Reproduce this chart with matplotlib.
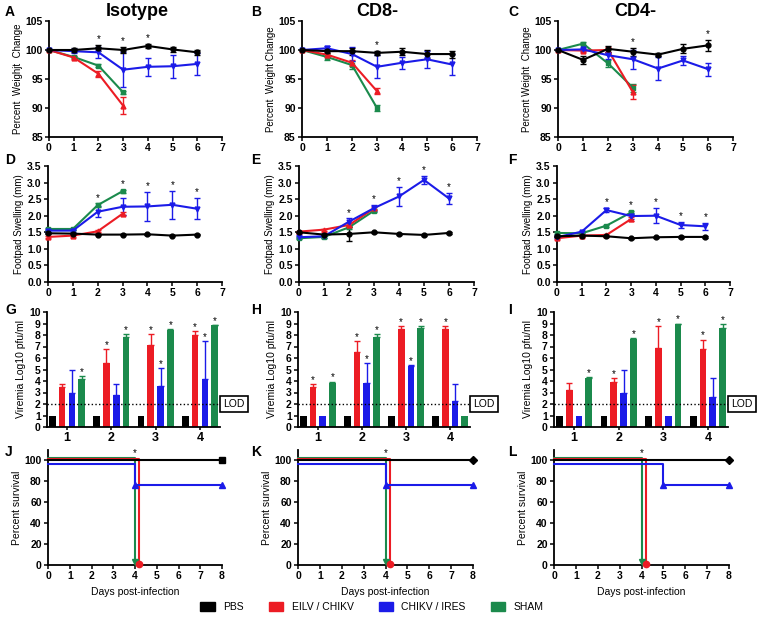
import numpy as np
import matplotlib
matplotlib.use("Agg")
import matplotlib.pyplot as plt
from matplotlib.patches import Patch
from matplotlib.transforms import blended_transform_factory

plt.rcParams['font.family'] = ['Liberation Sans', 'DejaVu Sans']
plt.rcParams['font.weight'] = 'bold'

W, H = 758, 620

groups = ['PBS', 'EILV / CHIKV', 'CHIKV / IRES', 'SHAM']
colors = {'PBS': 'black', 'EILV / CHIKV': '#ec1c24', 'CHIKV / IRES': '#1b1be8', 'SHAM': '#1b8a4c'}
line_markers = {'PBS': 'o', 'EILV / CHIKV': '^', 'CHIKV / IRES': 'v', 'SHAM': 's'}
draw_order = ['SHAM', 'EILV / CHIKV', 'CHIKV / IRES', 'PBS']

days = [0, 1, 2, 3, 4, 5, 6]

# percent weight change
wt_iso = {'PBS': [100, 100, 100.3, 100, 100.7, 100.1, 99.6],
          'EILV / CHIKV': [100, 98.7, 95.9, 90.4],
          'CHIKV / IRES': [100, 99.8, 99.6, 96.6, 97.1, 97.2, 97.6],
          'SHAM': [100, 98.8, 97.3, 92.7]}
wt_iso_err = {'PBS': [0, 0.4, 0.5, 0.5, 0.4, 0.5, 0.4],
              'EILV / CHIKV': [0, 0.2, 0.5, 1.5],
              'CHIKV / IRES': [0, 0.3, 1.0, 3.0, 1.6, 2.0, 1.9],
              'SHAM': [0, 0.2, 0.2, 0.3]}
wt_cd8 = {'PBS': [100, 99.8, 99.8, 99.5, 99.7, 99.3, 99.3],
          'EILV / CHIKV': [100, 99.2, 97.8, 92.9],
          'CHIKV / IRES': [100, 100.3, 99.3, 97.1, 97.8, 98.4, 97.5],
          'SHAM': [100, 98.8, 97.4, 90.0]}
wt_cd8_err = {'PBS': [0, 0.3, 0.6, 0.4, 0.6, 0.7, 0.6],
              'EILV / CHIKV': [0, 0.3, 0.5, 0.5],
              'CHIKV / IRES': [0, 0.4, 1.2, 2.0, 1.0, 1.5, 1.8],
              'SHAM': [0, 0.5, 0.7, 0.6]}
wt_cd4 = {'PBS': [100, 98.3, 100.2, 99.7, 99.2, 100.2, 100.8],
          'EILV / CHIKV': [100, 99.9, 100.0, 92.7],
          'CHIKV / IRES': [100, 100.1, 99.1, 98.4, 96.8, 98.2, 96.7],
          'SHAM': [100, 101.1, 97.7, 93.5]}
wt_cd4_err = {'PBS': [0, 0.7, 0.5, 0.7, 0.3, 0.8, 0.9],
              'EILV / CHIKV': [0, 0.3, 0.6, 1.2],
              'CHIKV / IRES': [0, 0.3, 0.6, 1.6, 2.0, 0.8, 1.1],
              'SHAM': [0, 0.3, 0.6, 0.7]}
wt_stars_iso = [2, 3, 4]
wt_stars_cd8 = [3]
wt_stars_cd4 = [3, 6]

# footpad swelling (mm)
fp_iso = {'PBS': [1.47, 1.46, 1.43, 1.43, 1.44, 1.40, 1.43],
          'EILV / CHIKV': [1.36, 1.40, 1.53, 2.06],
          'CHIKV / IRES': [1.55, 1.55, 2.12, 2.27, 2.28, 2.33, 2.21],
          'SHAM': [1.60, 1.60, 2.32, 2.74]}
fp_iso_err = {'PBS': [0.02, 0.02, 0.02, 0.02, 0.02, 0.02, 0.02],
              'EILV / CHIKV': [0.03, 0.03, 0.03, 0.04],
              'CHIKV / IRES': [0.03, 0.03, 0.17, 0.25, 0.45, 0.43, 0.32],
              'SHAM': [0.03, 0.03, 0.05, 0.04]}
fp_cd8 = {'PBS': [1.50, 1.43, 1.45, 1.50, 1.45, 1.42, 1.48],
          'EILV / CHIKV': [1.52, 1.58, 1.72, 2.22],
          'CHIKV / IRES': [1.35, 1.38, 1.82, 2.23, 2.58, 3.08, 2.52],
          'SHAM': [1.32, 1.36, 1.65, 2.15]}
fp_cd8_err = {'PBS': [0.02, 0.02, 0.20, 0.02, 0.02, 0.02, 0.02],
              'EILV / CHIKV': [0.03, 0.03, 0.05, 0.05],
              'CHIKV / IRES': [0.03, 0.05, 0.10, 0.10, 0.28, 0.13, 0.17],
              'SHAM': [0.03, 0.03, 0.05, 0.05]}
fp_cd4 = {'PBS': [1.38, 1.40, 1.38, 1.32, 1.35, 1.36, 1.36],
          'EILV / CHIKV': [1.32, 1.40, 1.42, 1.90],
          'CHIKV / IRES': [1.35, 1.52, 2.17, 1.99, 2.00, 1.72, 1.68],
          'SHAM': [1.48, 1.47, 1.70, 2.10]}
fp_cd4_err = {'PBS': [0.02, 0.02, 0.02, 0.02, 0.02, 0.02, 0.02],
              'EILV / CHIKV': [0.03, 0.03, 0.03, 0.07],
              'CHIKV / IRES': [0.03, 0.03, 0.07, 0.10, 0.23, 0.10, 0.10],
              'SHAM': [0.03, 0.03, 0.03, 0.04]}
fp_stars_iso = [2, 3, 4, 5, 6]
fp_stars_cd8 = [2, 3, 4, 5, 6]
fp_stars_cd4 = [2, 3, 4, 5, 6]

# viremia (log10 pfu/ml), days 1-4
vir_days = [1, 2, 3, 4]
vir_iso = {'PBS': [1, 1, 1, 1],
           'EILV / CHIKV': [3.45, 5.6, 7.1, 8.0],
           'CHIKV / IRES': [2.95, 2.75, 3.6, 4.2],
           'SHAM': [4.2, 7.85, 8.45, 8.85]}
vir_iso_err = {'PBS': [0, 0, 0, 0],
               'EILV / CHIKV': [0.3, 1.15, 1.0, 0.35],
               'CHIKV / IRES': [2.0, 0.95, 1.55, 3.25],
               'SHAM': [0.2, 0.25, 0.05, 0.02]}
vir_iso_stars = {'EILV / CHIKV': [2, 3, 4], 'CHIKV / IRES': [3, 4], 'SHAM': [1, 2, 3, 4]}
vir_cd8 = {'PBS': [1, 1, 1, 1],
           'EILV / CHIKV': [3.5, 6.55, 8.55, 8.5],
           'CHIKV / IRES': [1, 3.8, 5.3, 2.3],
           'SHAM': [3.85, 7.8, 8.6, 1]}
vir_cd8_err = {'PBS': [0, 0, 0, 0],
               'EILV / CHIKV': [0.2, 0.95, 0.25, 0.3],
               'CHIKV / IRES': [0, 1.75, 0.07, 1.4],
               'SHAM': [0.1, 0.3, 0.15, 0]}
vir_cd8_stars = {'EILV / CHIKV': [1, 2, 3, 4], 'CHIKV / IRES': [2, 3], 'SHAM': [1, 2, 3]}
vir_cd4 = {'PBS': [1, 1, 1, 1],
           'EILV / CHIKV': [3.25, 3.95, 6.9, 6.8],
           'CHIKV / IRES': [1, 2.95, 1, 2.6],
           'SHAM': [4.3, 7.65, 8.95, 8.6]}
vir_cd4_err = {'PBS': [0, 0, 0, 0],
               'EILV / CHIKV': [0.55, 0.3, 1.9, 0.8],
               'CHIKV / IRES': [0, 2.0, 0, 1.7],
               'SHAM': [0.05, 0.12, 0.05, 0.35]}
vir_cd4_stars = {'EILV / CHIKV': [2, 3, 4], 'SHAM': [1, 2, 3, 4]}
lod = 2

# survival (%)
surv_t = {'PBS': [0, 8], 'EILV / CHIKV': [0, 4.2], 'CHIKV / IRES': [0, 4, 8], 'SHAM': [0, 4]}
surv_t_cd4 = {'PBS': [0, 8], 'EILV / CHIKV': [0, 4.2], 'CHIKV / IRES': [0, 5, 8], 'SHAM': [0, 4]}
surv_pct = {'PBS': [100, 100], 'EILV / CHIKV': [100, 0], 'CHIKV / IRES': [100, 80, 80], 'SHAM': [100, 0]}
surv_star_day = 4

# style: vertical nudges so overlapping survival lines stay visible
surv_dy = {'PBS': 0, 'EILV / CHIKV': 1, 'CHIKV / IRES': -3, 'SHAM': 2.5}
surv_markers = {'EILV / CHIKV': 'o', 'CHIKV / IRES': '^', 'SHAM': 'v'}

fig = plt.figure(figsize=(W / 100, H / 100), dpi=100)


def make_ax(l, r, t, b):
    ax = fig.add_axes([l / W, 1 - b / H, (r - l) / W, (b - t) / H])
    for s in ['top', 'right']:
        ax.spines[s].set_visible(False)
    for s in ['left', 'bottom']:
        ax.spines[s].set_linewidth(1.3)
    ax.tick_params(labelsize=7.5, width=1.1, length=3, pad=1.5)
    return ax


def star(ax, x, y, color='black'):
    ax.text(x, y, '*', ha='center', va='center', fontsize=7, color=color, fontweight='normal')


def line_panel(ax, data, err, stars, ylim, yticks, ylabel, pad):
    for g in draw_order:
        y = data[g]
        x = days[:len(y)]
        ax.errorbar(x, y, yerr=err[g], color=colors[g], marker=line_markers[g], ms=3.5,
                    lw=1.5, elinewidth=1, capsize=2.5, capthick=1, clip_on=False, zorder=3)
    for d in stars:
        top = max(data[g][d] + err[g][d] for g in groups if len(data[g]) > d)
        star(ax, d, top + pad)
    ax.set_xlim(0, 7)
    ax.set_xticks(range(8))
    ax.set_ylim(*ylim)
    ax.set_yticks(yticks)
    ax.set_ylabel(ylabel, fontsize=7, labelpad=2)


def bar_panel(ax, data, err, stars):
    offsets = [-0.33, -0.11, 0.11, 0.33]
    w = 0.15
    for g, off in zip(groups, offsets):
        x = np.array(vir_days) + off
        ax.bar(x, data[g], width=w, color=colors[g], zorder=2)
        e = np.array(err[g])
        m = e > 0
        if m.any():
            ax.errorbar(x[m], np.array(data[g])[m], yerr=[np.zeros(m.sum()), e[m]], fmt='none',
                        ecolor=colors[g], elinewidth=1, capsize=2.2, capthick=1, zorder=2)
        for d in stars.get(g, []):
            i = vir_days.index(d)
            star(ax, x[i], data[g][i] + err[g][i] + 0.35)
    ax.axhline(lod, ls=':', color='black', lw=1, zorder=3)
    tr = blended_transform_factory(ax.transAxes, ax.transData)
    ax.text(1.02, lod, 'LOD', transform=tr, ha='left', va='center', fontsize=7.5, fontweight='normal',
            bbox=dict(boxstyle='square,pad=0.3', fc='white', ec='black', lw=1.2))
    ax.set_xlim(0.55, 4.45)
    ax.set_xticks(vir_days)
    ax.tick_params(axis='x', labelsize=9, length=2)
    ax.set_ylim(0, 10)
    ax.set_yticks(range(11))
    ax.set_ylabel('Viremia Log10 pfu/ml', fontsize=7.5, labelpad=2)


def surv_panel(ax, times, pbs_marker):
    for g in draw_order:
        t = times[g]
        p = np.array(surv_pct[g]) + surv_dy[g]
        ax.step(t, p, where='post', color=colors[g], lw=1.5, clip_on=False, zorder=3)
        mk = pbs_marker if g == 'PBS' else surv_markers[g]
        ax.plot(t[1:], p[1:], ls='none', marker=mk, ms=4.5, color=colors[g], clip_on=False, zorder=4)
    star(ax, surv_star_day, 107)
    ax.set_xlim(0, 8)
    ax.set_xticks(range(9))
    ax.set_ylim(0, 110)
    ax.set_yticks(range(0, 101, 20))
    ax.set_ylabel('Percent survival', fontsize=7.5, labelpad=2)
    ax.set_xlabel('Days post-infection', fontsize=7.5, labelpad=4)


# row 1: weight
axA = make_ax(49, 222, 21, 137)
line_panel(axA, wt_iso, wt_iso_err, wt_stars_iso, (85, 105), range(85, 106, 5), 'Percent  Weighjt  Change', 1.0)
axB = make_ax(302, 477, 21, 137)
line_panel(axB, wt_cd8, wt_cd8_err, wt_stars_cd8, (85, 105), range(85, 106, 5), 'Percent  Weight Change', 1.0)
axC = make_ax(558, 733, 21, 137)
line_panel(axC, wt_cd4, wt_cd4_err, wt_stars_cd4, (85, 105), range(85, 106, 5), 'Percent Weight  Change', 1.0)

# row 2: footpad
fp_ticks = np.arange(0, 3.51, 0.5)
axD = make_ax(48, 222, 166, 282)
line_panel(axD, fp_iso, fp_iso_err, fp_stars_iso, (0, 3.5), fp_ticks, 'Footpad Swelling (mm)', 0.17)
axE = make_ax(299, 474, 166, 282)
line_panel(axE, fp_cd8, fp_cd8_err, fp_stars_cd8, (0, 3.5), fp_ticks, 'Footpad Swelling (mm)', 0.17)
axF = make_ax(557, 730, 166, 282)
line_panel(axF, fp_cd4, fp_cd4_err, fp_stars_cd4, (0, 3.5), fp_ticks, 'Footpad Swelling (mm)', 0.17)
for ax in (axD, axE, axF):
    ax.yaxis.set_major_formatter(matplotlib.ticker.FormatStrFormatter('%.1f'))

# row 3: viremia
axG = make_ax(47, 220, 312, 427)
bar_panel(axG, vir_iso, vir_iso_err, vir_iso_stars)
axH = make_ax(298, 470, 312, 427)
bar_panel(axH, vir_cd8, vir_cd8_err, vir_cd8_stars)
axI = make_ax(554, 728, 312, 427)
bar_panel(axI, vir_cd4, vir_cd4_err, vir_cd4_stars)

# row 4: survival
axJ = make_ax(48, 222, 450, 565)
surv_panel(axJ, surv_t, 's')
axK = make_ax(298, 473, 450, 565)
surv_panel(axK, surv_t, 'D')
axL = make_ax(554, 729, 450, 565)
surv_panel(axL, surv_t_cd4, 'D')

# titles and panel letters
for txt, x in [('Isotype', 137), ('CD8-', 377), ('CD4-', 635)]:
    fig.text(x / W, 1 - 11 / H, txt, ha='center', va='center', fontsize=13)
letters = [('A', 5, 12), ('B', 251, 12), ('C', 508, 12),
           ('D', 5, 160), ('E', 251, 160), ('F', 508, 160),
           ('G', 5, 310), ('H', 251, 310), ('I', 508, 310),
           ('J', 5, 452), ('K', 251, 452), ('L', 508, 452)]
for t, x, y in letters:
    fig.text(x / W, 1 - y / H, t, ha='left', va='center', fontsize=10)

handles = [Patch(color=colors[g]) for g in groups]
fig.legend(handles, groups, loc='center', bbox_to_anchor=(372 / W, 1 - 607 / H), ncol=4,
           frameon=False, prop={'size': 7.5, 'weight': 'normal'}, handlelength=1.4,
           handleheight=0.9, handletextpad=0.8, columnspacing=2.4)

fig.savefig('out.png', dpi=100)
